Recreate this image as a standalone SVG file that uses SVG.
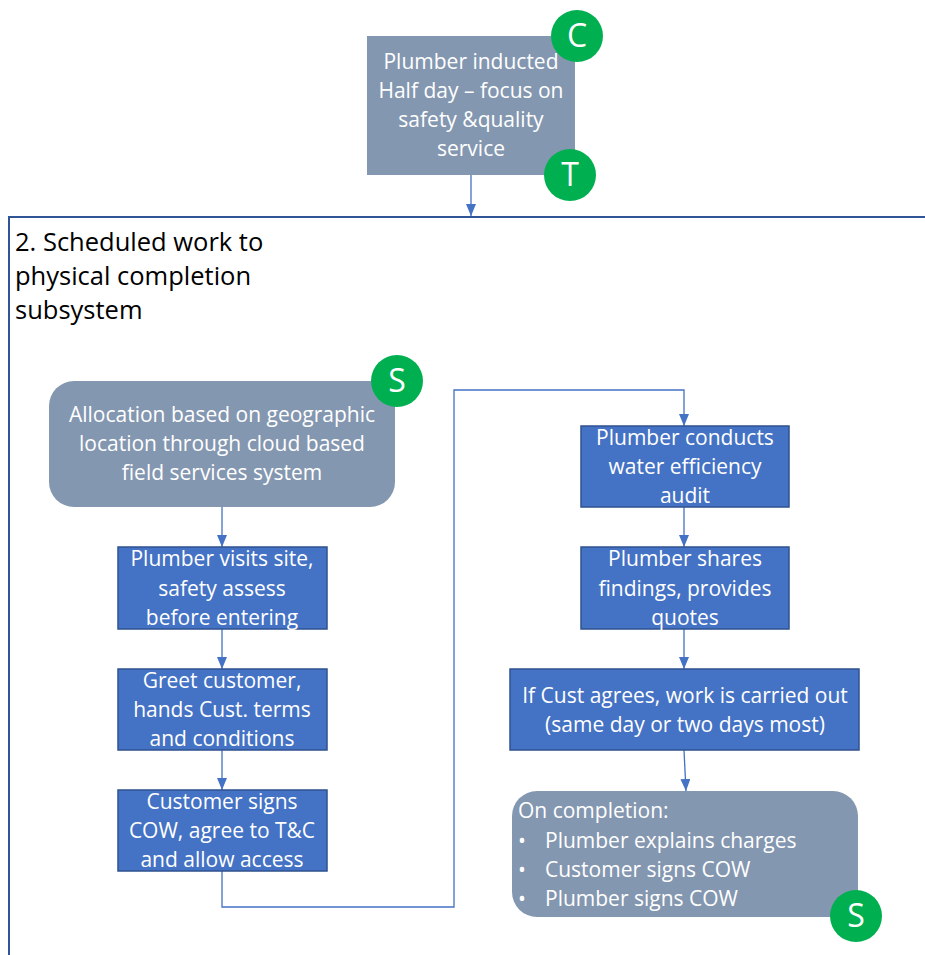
<svg xmlns="http://www.w3.org/2000/svg" width="925" height="955" viewBox="0 0 925 955">
  <defs>
    <marker id="arr" markerWidth="12" markerHeight="10" refX="12" refY="5" orient="auto" markerUnits="userSpaceOnUse">
      <path d="M0,0 L12,5 L0,10 Z" fill="#4472C4"/>
    </marker>
    <style>
      .t { font-family: "Open Sans", "Noto Sans", "DejaVu Sans", sans-serif; font-size: 21px; fill: #ffffff; text-anchor: middle; }
      .tl { font-family: "Open Sans", "Noto Sans", "DejaVu Sans", sans-serif; font-size: 21px; fill: #ffffff; }
      .title { font-family: "Open Sans", "Noto Sans", "DejaVu Sans", sans-serif; font-size: 25.5px; fill: #000000; }
      .grey { fill: #8497B0; }
      .blue { fill: #4472C4; stroke: #2F528F; stroke-width: 1.5; }
      .badge { fill: #00B050; }
      .bt { font-family: "Open Sans", "Noto Sans", "DejaVu Sans", sans-serif; font-size: 32px; fill: #ffffff; text-anchor: middle; }
      .conn { fill: none; stroke: #4472C4; stroke-width: 1.3; }
    </style>
  </defs>
  <rect width="925" height="955" fill="#ffffff"/>

  <!-- subsystem frame -->
  <g id="subsystem">
    <path d="M9,955 L9,217 L925,217" fill="none" stroke="#2F5597" stroke-width="2"/>
    <text class="title" x="15" y="251">2. Scheduled work to</text>
    <text class="title" x="15" y="285">physical completion</text>
    <text class="title" x="15" y="319">subsystem</text>
  </g>

  <g id="connectors">
    <line class="conn" x1="471" y1="175" x2="471" y2="216" marker-end="url(#arr)"/>
    <line class="conn" x1="222" y1="507" x2="222" y2="547" marker-end="url(#arr)"/>
    <line class="conn" x1="222" y1="629" x2="222" y2="669" marker-end="url(#arr)"/>
    <line class="conn" x1="222" y1="750" x2="222" y2="790" marker-end="url(#arr)"/>
    <path class="conn" d="M222,871 L222,907 L454,907 L454,390 L684,390 L684,426" marker-end="url(#arr)"/>
    <line class="conn" x1="684" y1="507" x2="684" y2="547" marker-end="url(#arr)"/>
    <line class="conn" x1="684" y1="629" x2="684" y2="669" marker-end="url(#arr)"/>
    <line class="conn" x1="684" y1="750" x2="686" y2="791" marker-end="url(#arr)"/>
  </g>

  <g id="induction">
    <rect class="grey" x="367" y="36" width="208" height="139"/>
    <text class="t" x="471" y="69">Plumber inducted</text>
    <text class="t" x="471" y="98">Half day – focus on</text>
    <text class="t" x="471" y="127">safety &amp;quality</text>
    <text class="t" x="471" y="156">service</text>
    <circle class="badge" cx="577" cy="36" r="26"/>
    <text class="bt" x="577" y="47">C</text>
    <circle class="badge" cx="570" cy="175" r="26"/>
    <text class="bt" x="570" y="186">T</text>
  </g>

  <g id="allocation">
    <rect class="grey" x="49" y="381" width="346" height="126" rx="25"/>
    <text class="t" x="222" y="422">Allocation based on geographic</text>
    <text class="t" x="222" y="451">location through cloud based</text>
    <text class="t" x="222" y="480">field services system</text>
    <circle class="badge" cx="397" cy="381" r="26"/>
    <text class="bt" x="397" y="392">S</text>
  </g>

  <g id="visit">
    <rect class="blue" x="118" y="547" width="209" height="82"/>
    <text class="t" x="222" y="566">Plumber visits site,</text>
    <text class="t" x="222" y="596">safety assess</text>
    <text class="t" x="222" y="625">before entering</text>
  </g>

  <g id="greet">
    <rect class="blue" x="118" y="669" width="209" height="81"/>
    <text class="t" x="222" y="688">Greet customer,</text>
    <text class="t" x="222" y="717">hands Cust. terms</text>
    <text class="t" x="222" y="746">and conditions</text>
  </g>

  <g id="signs">
    <rect class="blue" x="118" y="790" width="209" height="81"/>
    <text class="t" x="222" y="809">Customer signs</text>
    <text class="t" x="222" y="838">COW, agree to T&amp;C</text>
    <text class="t" x="222" y="867">and allow access</text>
  </g>

  <g id="audit">
    <rect class="blue" x="581" y="426" width="208" height="81"/>
    <text class="t" x="685" y="445">Plumber conducts</text>
    <text class="t" x="685" y="474">water efficiency</text>
    <text class="t" x="685" y="503">audit</text>
  </g>

  <g id="findings">
    <rect class="blue" x="581" y="547" width="208" height="82"/>
    <text class="t" x="685" y="566">Plumber shares</text>
    <text class="t" x="685" y="596">findings, provides</text>
    <text class="t" x="685" y="625">quotes</text>
  </g>

  <g id="work">
    <rect class="blue" x="510" y="669" width="349" height="81"/>
    <text class="t" x="685" y="703">If Cust agrees, work is carried out</text>
    <text class="t" x="685" y="732">(same day or two days most)</text>
  </g>

  <g id="completion">
    <rect class="grey" x="512" y="791" width="346" height="126" rx="25"/>
    <text class="tl" x="518" y="818">On completion:</text>
    <text class="tl" x="518" y="848">•</text>
    <text class="tl" x="545" y="848">Plumber explains charges</text>
    <text class="tl" x="518" y="877">•</text>
    <text class="tl" x="545" y="877">Customer signs COW</text>
    <text class="tl" x="518" y="906">•</text>
    <text class="tl" x="545" y="906">Plumber signs COW</text>
    <circle class="badge" cx="856" cy="916" r="26"/>
    <text class="bt" x="856" y="927">S</text>
  </g>
</svg>
